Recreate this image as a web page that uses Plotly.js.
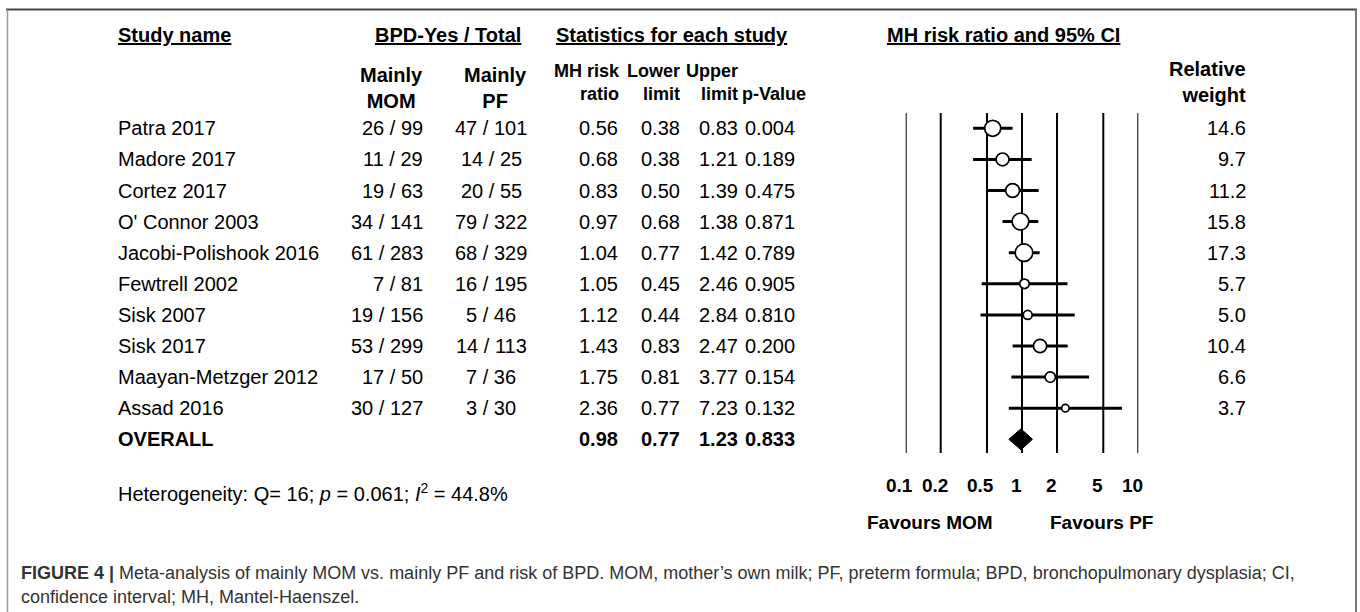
<!DOCTYPE html>
<html>
<head>
<meta charset="utf-8">
<script src="https://cdn.plot.ly/plotly-3.0.1.min.js"></script>
<style>html,body{margin:0;padding:0;background:#fff;}#chart{width:1360px;height:612px;}</style>
</head>
<body>
<div id="chart"></div>
<script>
// ---- data ----
const studies = ['Patra 2017','Madore 2017','Cortez 2017',"O' Connor 2003",'Jacobi-Polishook 2016','Fewtrell 2002','Sisk 2007','Sisk 2017','Maayan-Metzger 2012','Assad 2016'];
const momEvents = [26,11,19,34,61,7,19,53,17,30];
const momTotal  = [99,29,63,141,283,81,156,299,50,127];
const pfEvents  = [47,14,20,79,68,16,5,14,7,3];
const pfTotal   = [101,25,55,322,329,195,46,113,36,30];
const riskRatio = [0.56,0.68,0.83,0.97,1.04,1.05,1.12,1.43,1.75,2.36];
const lowerLimit = [0.38,0.38,0.50,0.68,0.77,0.45,0.44,0.83,0.81,0.77];
const upperLimit = [0.83,1.21,1.39,1.38,1.42,2.46,2.84,2.47,3.77,7.23];
const pValues = ['0.004','0.189','0.475','0.871','0.789','0.905','0.810','0.200','0.154','0.132'];
const relWeight = [14.6,9.7,11.2,15.8,17.3,5.7,5.0,10.4,6.6,3.7];
const overallLabel = 'OVERALL';
const overallStats = [0.98,0.77,1.23];
const overallP = '0.833';
const scaleTicks = [0.1,0.2,0.5,1,2,5,10];
const scaleTickLabels = ['0.1','0.2','0.5','1','2','5','10'];
const heterogeneity = 'Heterogeneity: Q= 16; <i>p</i> = 0.061; <i>I</i><sup>2</sup> = 44.8%';
const captionLine1 = '<b>FIGURE 4 |</b> Meta-analysis of mainly MOM vs. mainly PF and risk of BPD. MOM, mother\u2019s own milk; PF, preterm formula; BPD, bronchopulmonary dysplasia; CI,';
const captionLine2 = 'confidence interval; MH, Mantel-Haenszel.';

// ---- layout helpers ----
const W = 1360, H = 612;
const FONT = 'Arial, "Liberation Sans", Helvetica, sans-serif';
const row0 = 128.3, rowStep = 31.1;
const rowY = i => row0 + i * rowStep;
const px = v => v / W;
const n = studies.length;
const overallY = rowY(n);
const gridTop = 113, gridBottom = 453;

const traces = [];
// vertical reference lines
const gx = [], gy = [];
scaleTicks.forEach(t => { gx.push(t, t, null); gy.push(gridTop, gridBottom, null); });
traces.push({x: gx, y: gy, mode: 'lines', line: {color: '#000', width: 2}, hoverinfo: 'skip', showlegend: false});
// confidence intervals
const cx = [], cy = [];
for (let i = 0; i < n; i++) { cx.push(lowerLimit[i], upperLimit[i], null); cy.push(rowY(i), rowY(i), null); }
traces.push({x: cx, y: cy, mode: 'lines', line: {color: '#000', width: 3}, hoverinfo: 'skip', showlegend: false});
// point estimates
traces.push({
  x: riskRatio, y: studies.map((s, i) => rowY(i)), mode: 'markers',
  marker: {symbol: 'circle', color: 'rgb(255,255,255)', opacity: 1, size: relWeight.map(w => 4.5 * Math.sqrt(w) - 1.2), line: {color: '#000', width: 1.7}},
  hoverinfo: 'skip', showlegend: false
});
// overall diamond
const dh = 10.5;
traces.push({
  x: [overallStats[1], overallStats[0], overallStats[2], overallStats[0], overallStats[1]],
  y: [overallY, overallY - dh, overallY, overallY + dh, overallY],
  mode: 'lines', fill: 'toself', fillcolor: '#000', line: {color: '#000', width: 1},
  hoverinfo: 'skip', showlegend: false
});

const ann = [];
function txt(text, x, y, xanchor, opts) {
  ann.push(Object.assign({
    text: text, xref: 'paper', yref: 'y', x: px(x), y: y, xanchor: xanchor, yanchor: 'middle',
    showarrow: false, align: xanchor === 'center' ? 'center' : (xanchor === 'right' ? 'right' : 'left'),
    font: {family: FONT, size: 20, color: '#000'}
  }, opts || {}));
}
const hdr = {font: {family: FONT, size: 18, color: '#000'}};
// headers
txt('<u><b>Study name</b></u>', 116, 35, 'left');
txt('<u><b>BPD-Yes / Total</b></u>', 448, 35, 'center');
txt('<u><b>Statistics for each study</b></u>', 672, 35, 'center');
txt('<u><b>MH risk ratio and 95% CI</b></u>', 885, 35, 'left');
txt('<b>Mainly<br>MOM</b>', 392, 88, 'center');
txt('<b>Mainly<br>PF</b>', 495, 88, 'center');
txt('<b>MH risk<br>ratio</b>', 622, 82, 'right', hdr);
txt('<b>Lower<br>limit</b>', 682, 82, 'right', hdr);
txt('<b>Upper<br>limit</b>', 740, 82, 'right', hdr);
txt('<b>p-Value</b>', 808, 94, 'right', hdr);
txt('<b>Relative<br>weight</b>', 1248, 82, 'right');
// rows
for (let i = 0; i < n; i++) {
  const y = rowY(i);
  txt(studies[i], 116, y, 'left');
  txt(momEvents[i] + ' / ' + momTotal[i], 425, y, 'right');
  txt(pfEvents[i] + ' / ' + pfTotal[i], 491, y, 'center');
  txt(riskRatio[i].toFixed(2), 620, y, 'right');
  txt(lowerLimit[i].toFixed(2), 682, y, 'right');
  txt(upperLimit[i].toFixed(2), 740, y, 'right');
  txt(pValues[i], 797, y, 'right');
  txt(relWeight[i].toFixed(1), 1248, y, 'right');
}
txt('<b>' + overallLabel + '</b>', 116, overallY, 'left');
txt('<b>' + overallStats[0].toFixed(2) + '</b>', 620, overallY, 'right');
txt('<b>' + overallStats[1].toFixed(2) + '</b>', 682, overallY, 'right');
txt('<b>' + overallStats[2].toFixed(2) + '</b>', 740, overallY, 'right');
txt('<b>' + overallP + '</b>', 797, overallY, 'right');
txt(heterogeneity, 116, 492, 'left');
// scale labels
scaleTicks.forEach((t, k) => {
  ann.push({text: '<b>' + scaleTickLabels[k] + '</b>', xref: 'x', yref: 'y', x: Math.log10(t), y: 485,
    xanchor: 'center', yanchor: 'middle', xshift: -6, showarrow: false,
    font: {family: FONT, size: 19, color: '#000'}});
});
txt('<b>Favours MOM</b>', 930, 522, 'center', {font: {family: FONT, size: 19, color: '#000'}});
txt('<b>Favours PF</b>', 1101, 522, 'center', {font: {family: FONT, size: 19, color: '#000'}});
// caption
txt(captionLine1, 19, 573, 'left', {font: {family: FONT, size: 18, color: '#333'}});
txt(captionLine2, 19, 597, 'left', {font: {family: FONT, size: 18, color: '#333'}});

const shapes = [
  {type: 'line', xref: 'paper', yref: 'paper', x0: px(6), x1: px(1357), y0: 1 - 9.5 / H, y1: 1 - 9.5 / H, line: {color: '#444', width: 2}},
  {type: 'line', xref: 'paper', yref: 'paper', x0: px(7.5), x1: px(7.5), y0: 1 - 9.5 / H, y1: -0.05, line: {color: '#999', width: 1.5}},
  {type: 'line', xref: 'paper', yref: 'paper', x0: px(1356), x1: px(1356), y0: 1 - 9.5 / H, y1: -0.05, line: {color: '#777', width: 2}}
];

const x0px = 905.7, x1px = 1138.3;
const layout = {
  width: W, height: H,
  margin: {l: 0, r: 0, t: 0, b: 0, pad: 0},
  paper_bgcolor: '#fff', plot_bgcolor: 'rgba(0,0,0,0)',
  showlegend: false,
  xaxis: {type: 'log', domain: [px(x0px), px(x1px)], range: [-1, 1], visible: false, fixedrange: true},
  yaxis: {range: [H, 0], domain: [0, 1], visible: false, fixedrange: true},
  annotations: ann,
  shapes: shapes,
  font: {family: FONT}
};
Plotly.newPlot('chart', traces, layout, {displayModeBar: false, staticPlot: true});
</script>
</body>
</html>
